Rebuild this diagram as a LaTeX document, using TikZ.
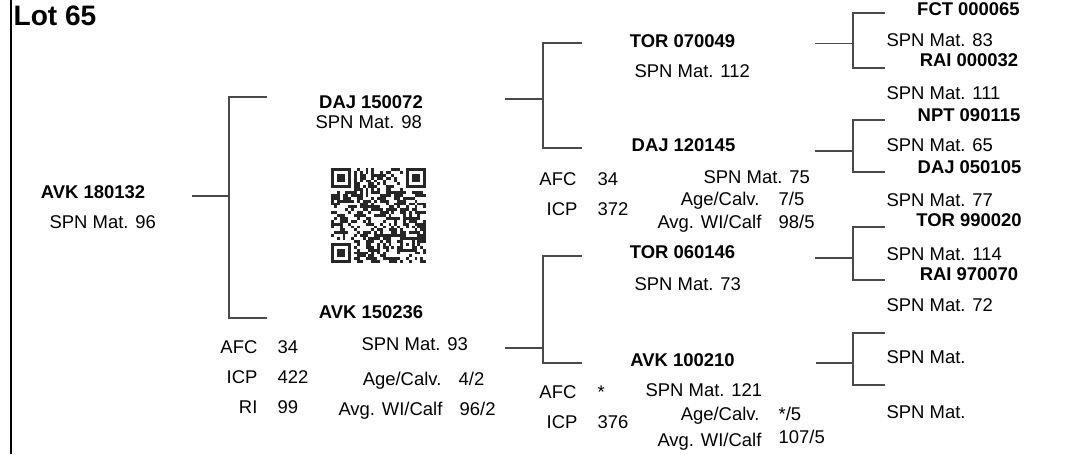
\documentclass[tikz,border=0pt]{standalone}
\usepackage{fontspec}
\setmainfont{Liberation Sans}
\definecolor{clink}{HTML}{4A4A4A}
\definecolor{cqr}{HTML}{262626}
\tikzset{
  every picture/.style={line width=0.7pt},
  animal/.style={font=\fontsize{10.5}{12.6}\selectfont\bfseries, anchor=base, inner sep=0pt},
  info/.style={font=\fontsize{10.5}{12.6}\selectfont, anchor=base west, inner sep=0pt},
  lbl/.style={font=\fontsize{10.5}{12.6}\selectfont, anchor=base east, inner sep=0pt},
  link/.style={draw=clink, line width=0.75pt},
  qr/.style={fill=cqr},
}

\begin{document}
\begin{tikzpicture}[x=0.02cm, y=-0.02cm]
  \useasboundingbox (0,0) rectangle (1078,454);
  \draw[black] (11,0) -- (11,454);
  \node[anchor=base west, inner sep=0pt, font=\fontsize{16}{19}\selectfont\bfseries] (lot) at (13,25) {Lot 65};

  % generation 1
  \node[animal] (avk180132) at (93,198) {AVK 180132};
  \node[info] (avk180132-spn) at (49,228) {SPN Mat. 96};

  % generation 2
  \node[animal] (daj150072) at (371,108) {DAJ 150072};
  \node[info] (daj150072-spn) at (315,128) {SPN Mat. 98};
  \node[animal] (avk150236) at (371,318) {AVK 150236};
  \node[info] (avk150236-spn) at (361,350) {SPN Mat. 93};
  \node[lbl] (avk150236-age) at (442,385) {Age/Calv.};
  \node[info] (avk150236-agev) at (458,385) {4/2};
  \node[lbl] (avk150236-wi) at (443,415) {Avg. WI/Calf};
  \node[info] (avk150236-wiv) at (459,415) {96/2};
  \node[lbl] (avk150236-afc) at (258,353) {AFC};
  \node[info] (avk150236-afcv) at (277,353) {34};
  \node[lbl] (avk150236-icp) at (258,383) {ICP};
  \node[info] (avk150236-icpv) at (277,383) {422};
  \node[lbl] (avk150236-ri) at (258,413) {RI};
  \node[info] (avk150236-riv) at (277,413) {99};

  % generation 3
  \node[animal] (tor070049) at (682.5,47.5) {TOR 070049};
  \node[info] (tor070049-spn) at (634,77.5) {SPN Mat. 112};
  \node[animal] (daj120145) at (683.5,151.5) {DAJ 120145};
  \node[info] (daj120145-spn) at (703,183) {SPN Mat. 75};
  \node[lbl] (daj120145-age) at (760,205) {Age/Calv.};
  \node[info] (daj120145-agev) at (778,205) {7/5};
  \node[lbl] (daj120145-wi) at (762,228) {Avg. WI/Calf};
  \node[info] (daj120145-wiv) at (778,228) {98/5};
  \node[lbl] (daj120145-afc) at (577,185) {AFC};
  \node[info] (daj120145-afcv) at (597,185) {34};
  \node[lbl] (daj120145-icp) at (578,215) {ICP};
  \node[info] (daj120145-icpv) at (597,215) {372};
  \node[animal] (tor060146) at (682.5,258) {TOR 060146};
  \node[info] (tor060146-spn) at (634,290) {SPN Mat. 73};
  \node[animal] (avk100210) at (682.5,366.5) {AVK 100210};
  \node[info] (avk100210-spn) at (645,396.5) {SPN Mat. 121};
  \node[lbl] (avk100210-age) at (760,420) {Age/Calv.};
  \node[info] (avk100210-agev) at (778,420) {*/5};
  \node[lbl] (avk100210-wi) at (762,446.5) {Avg. WI/Calf};
  \node[info] (avk100210-wiv) at (778,443) {107/5};
  \node[lbl] (avk100210-afc) at (577,398) {AFC};
  \node[info] (avk100210-afcv) at (597,398) {*};
  \node[lbl] (avk100210-icp) at (578,428) {ICP};
  \node[info] (avk100210-icpv) at (597,428) {376};

  % generation 4
  \node[animal] (fct000065) at (968.5,15) {FCT 000065};
  \node[info] (fct000065-spn) at (886,46.5) {SPN Mat. 83};
  \node[animal] (rai000032) at (969,66.5) {RAI 000032};
  \node[info] (rai000032-spn) at (886,99) {SPN Mat. 111};
  \node[animal] (npt090115) at (969,121.5) {NPT 090115};
  \node[info] (npt090115-spn) at (886,151.5) {SPN Mat. 65};
  \node[animal] (daj050105) at (969.5,173) {DAJ 050105};
  \node[info] (daj050105-spn) at (886,206.5) {SPN Mat. 77};
  \node[animal] (tor990020) at (969,226.5) {TOR 990020};
  \node[info] (tor990020-spn) at (886,260) {SPN Mat. 114};
  \node[animal] (rai970070) at (969,280) {RAI 970070};
  \node[info] (rai970070-spn) at (886,311.5) {SPN Mat. 72};
  \node[info] (sire-spn) at (886,363) {SPN Mat.};
  \node[info] (dam-spn) at (886,418) {SPN Mat.};

  % pedigree brackets
  \foreach \i/\xa/\ym/\xb/\yt/\yb/\xc in {
      1/192/196/229/97/318/267,
      2/505/99/543/43/148/582,
      3/505/348/543/256/363/582,
      4/815/43.5/853/13/68/885,
      5/815/151/853/120/172/885,
      6/815/258/853/227/280/885,
      7/816/363/853/333/385/885}{
    \coordinate (in\i) at (\xa,\ym);
    \coordinate (top\i) at (\xc,\yt);
    \coordinate (bot\i) at (\xc,\yb);
    \draw[link] (in\i) -- (\xb,\ym) (top\i) -- (\xb,\yt) |- (bot\i);
  }

  % qr code, 33 x 33 modules
  \def\m{2.88}
  \pgfmathsetseed{65}
  \foreach \r in {0,...,32}{
    \foreach \c in {0,...,32}{
      \pgfmathtruncatemacro{\keep}{((\r<8 && \c<8) || (\r<8 && \c>24) || (\r>24 && \c<8)) ? 0 : (rnd<0.5 ? 1 : 0)}
      \ifnum\keep=1 \fill[qr] (331+\m*\c,168+\m*\r) rectangle ++(\m,\m); \fi
    }
  }
  \foreach \fx/\fy in {0/0,26/0,0/26}{
    \fill[qr] (331+\m*\fx,168+\m*\fy) rectangle ++(7*\m,7*\m);
    \fill[white] (331+\m*\fx+\m,168+\m*\fy+\m) rectangle ++(5*\m,5*\m);
    \fill[qr] (331+\m*\fx+2*\m,168+\m*\fy+2*\m) rectangle ++(3*\m,3*\m);
  }
  \fill[qr] (331+\m*24,168+\m*24) rectangle ++(5*\m,5*\m);
  \fill[white] (331+\m*25,168+\m*25) rectangle ++(3*\m,3*\m);
  \fill[qr] (331+\m*26,168+\m*26) rectangle ++(\m,\m);
\end{tikzpicture}
\end{document}
